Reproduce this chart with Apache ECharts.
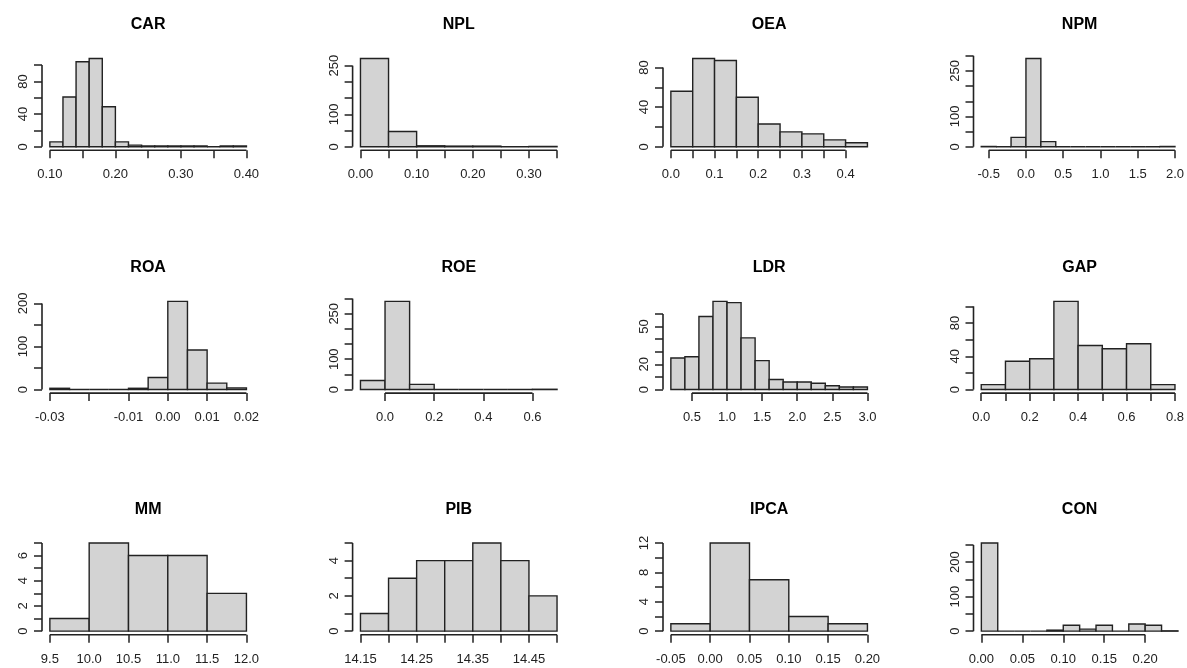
<!DOCTYPE html>
<html><head><meta charset="utf-8">
<script src="https://cdn.jsdelivr.net/npm/echarts@6/dist/echarts.min.js"></script>
<style>html,body{margin:0;padding:0;background:#fff}#c{width:1187px;height:668px}</style>
</head><body><div id="c"></div>
<script>
// ---- data ----
const titles = ['CAR','NPL','OEA','NPM','ROA','ROE','LDR','GAP','MM','PIB','IPCA','CON'];

const carBreaks = [0.10,0.12,0.14,0.16,0.18,0.20,0.22,0.24,0.26,0.28,0.30,0.32,0.34,0.36,0.38,0.40];
const carCounts = [6,61,104,108,49,6,2,1,1,1,1,1,0,1,1];
const carXTicks = [0.10,0.15,0.20,0.25,0.30,0.35,0.40];
const carXLabels = [0.10,0.20,0.30,0.40];
const carYTicks = [0,20,40,60,80,100];
const carYLabels = [0,40,80];

const nplBreaks = [0,0.05,0.10,0.15,0.20,0.25,0.30,0.35];
const nplCounts = [272,47,3,2,2,0,1];
const nplXTicks = [0,0.05,0.10,0.15,0.20,0.25,0.30,0.35];
const nplXLabels = [0,0.10,0.20,0.30];
const nplYTicks = [0,50,100,150,200,250];
const nplYLabels = [0,100,250];

const oeaBreaks = [0,0.05,0.10,0.15,0.20,0.25,0.30,0.35,0.40,0.45];
const oeaCounts = [56,89,87,50,23,15,13,7,4];
const oeaXTicks = [0,0.05,0.10,0.15,0.20,0.25,0.30,0.35,0.40];
const oeaXLabels = [0,0.1,0.2,0.3,0.4];
const oeaYTicks = [0,20,40,60,80];
const oeaYLabels = [0,40,80];

const npmBreaks = [-0.6,-0.4,-0.2,0,0.2,0.4,0.6,0.8,1.0,1.2,1.4,1.6,1.8,2.0];
const npmCounts = [1,0,31,291,17,0,0,0,0,0,0,0,1];
const npmXTicks = [-0.5,0,0.5,1.0,1.5,2.0];
const npmXLabels = [-0.5,0,0.5,1.0,1.5,2.0];
const npmYTicks = [0,50,100,150,200,250,300];
const npmYLabels = [0,100,250];

const roaBreaks = [-0.03,-0.025,-0.02,-0.015,-0.01,-0.005,0,0.005,0.01,0.015,0.02];
const roaCounts = [3,0,0,0,3,28,205,92,15,4];
const roaXTicks = [-0.03,-0.02,-0.01,0,0.01,0.02];
const roaXLabels = [-0.03,-0.01,0,0.01,0.02];
const roaYTicks = [0,50,100,150,200];
const roaYLabels = [0,100,200];

const roeBreaks = [-0.1,0,0.1,0.2,0.3,0.4,0.5,0.6,0.7];
const roeCounts = [30,291,17,0,0,0,0,1];
const roeXTicks = [0,0.2,0.4,0.6];
const roeXLabels = [0,0.2,0.4,0.6];
const roeYTicks = [0,50,100,150,200,250,300];
const roeYLabels = [0,100,250];

const ldrBreaks = [0.2,0.4,0.6,0.8,1.0,1.2,1.4,1.6,1.8,2.0,2.2,2.4,2.6,2.8,3.0];
const ldrCounts = [25,26,58,70,69,41,23,8,6,6,5,3,2,2];
const ldrXTicks = [0.5,1.0,1.5,2.0,2.5,3.0];
const ldrXLabels = [0.5,1.0,1.5,2.0,2.5,3.0];
const ldrYTicks = [0,10,20,30,40,50,60];
const ldrYLabels = [0,20,50];

const gapBreaks = [0,0.1,0.2,0.3,0.4,0.5,0.6,0.7,0.8];
const gapCounts = [6,34,37,106,53,49,55,6];
const gapXTicks = [0,0.1,0.2,0.3,0.4,0.5,0.6,0.7,0.8];
const gapXLabels = [0,0.2,0.4,0.6,0.8];
const gapYTicks = [0,20,40,60,80,100];
const gapYLabels = [0,40,80];

const mmBreaks = [9.5,10.0,10.5,11.0,11.5,12.0];
const mmCounts = [1,7,6,6,3];
const mmXTicks = [9.5,10.0,10.5,11.0,11.5,12.0];
const mmXLabels = [9.5,10.0,10.5,11.0,11.5,12.0];
const mmYTicks = [0,1,2,3,4,5,6,7];
const mmYLabels = [0,2,4,6];

const pibBreaks = [14.15,14.20,14.25,14.30,14.35,14.40,14.45,14.50];
const pibCounts = [1,3,4,4,5,4,2];
const pibXTicks = [14.15,14.20,14.25,14.30,14.35,14.40,14.45,14.50];
const pibXLabels = [14.15,14.25,14.35,14.45];
const pibYTicks = [0,1,2,3,4,5];
const pibYLabels = [0,2,4];

const ipcaBreaks = [-0.05,0,0.05,0.10,0.15,0.20];
const ipcaCounts = [1,12,7,2,1];
const ipcaXTicks = [-0.05,0,0.05,0.10,0.15,0.20];
const ipcaXLabels = [-0.05,0,0.05,0.10,0.15,0.20];
const ipcaYTicks = [0,2,4,6,8,10,12];
const ipcaYLabels = [0,4,8,12];

const conBreaks = [0,0.02,0.04,0.06,0.08,0.10,0.12,0.14,0.16,0.18,0.20,0.22,0.24];
const conCounts = [256,0,0,0,3,17,6,17,0,21,17,1];
const conXTicks = [0,0.05,0.10,0.15,0.20];
const conXLabels = [0,0.05,0.10,0.15,0.20];
const conYTicks = [0,50,100,150,200,250];
const conYLabels = [0,100,200];

const xDecimals = [2,2,1,1,2,1,1,1,1,2,2,2];

// ---- build ----
const panels = [
  [carBreaks,carCounts,carXTicks,carXLabels,carYTicks,carYLabels],
  [nplBreaks,nplCounts,nplXTicks,nplXLabels,nplYTicks,nplYLabels],
  [oeaBreaks,oeaCounts,oeaXTicks,oeaXLabels,oeaYTicks,oeaYLabels],
  [npmBreaks,npmCounts,npmXTicks,npmXLabels,npmYTicks,npmYLabels],
  [roaBreaks,roaCounts,roaXTicks,roaXLabels,roaYTicks,roaYLabels],
  [roeBreaks,roeCounts,roeXTicks,roeXLabels,roeYTicks,roeYLabels],
  [ldrBreaks,ldrCounts,ldrXTicks,ldrXLabels,ldrYTicks,ldrYLabels],
  [gapBreaks,gapCounts,gapXTicks,gapXLabels,gapYTicks,gapYLabels],
  [mmBreaks,mmCounts,mmXTicks,mmXLabels,mmYTicks,mmYLabels],
  [pibBreaks,pibCounts,pibXTicks,pibXLabels,pibYTicks,pibYLabels],
  [ipcaBreaks,ipcaCounts,ipcaXTicks,ipcaXLabels,ipcaYTicks,ipcaYLabels],
  [conBreaks,conCounts,conXTicks,conXLabels,conYTicks,conYLabels]
];

const FONT = '"Liberation Sans", Arial, sans-serif';
const INK = '#222';
const colLeft = [42.0, 352.6, 663.0, 973.5];
const rowTop = [55.0, 297.8, 539.4];
const plotW = 212.3, plotH = 95.3;

const grid = [], xAxis = [], yAxis = [], series = [], graphic = [];

panels.forEach((p, i) => {
  const [br, ct, xt, xl, yt, yl] = p;
  const r = Math.floor(i / 4), c = i % 4;
  const x0 = br[0], x1 = br[br.length - 1];
  const xr = x1 - x0;
  const ymax = Math.max(...ct);
  grid.push({left: colLeft[c], top: rowTop[r], width: plotW, height: plotH, containLabel: false});
  const dec = xDecimals[i];
  xAxis.push({
    type: 'value', gridIndex: i, position: 'bottom', min: x0 - 0.04 * xr, max: x1 + 0.04 * xr,
    axisLine: {show: false, onZero: false}, splitLine: {show: false},
    axisTick: {show: true, customValues: xt, length: 8, inside: false, lineStyle: {color: INK, width: 1.5}},
    axisLabel: {show: true, customValues: xl, margin: 18, color: INK, fontSize: 13, fontFamily: FONT,
      hideOverlap: false, formatter: v => Number(v).toFixed(dec)}
  });
  yAxis.push({
    type: 'value', gridIndex: i, position: 'left', min: -0.04 * ymax, max: 1.04 * ymax,
    axisLine: {show: false, onZero: false}, splitLine: {show: false},
    axisTick: {show: true, customValues: yt, length: 8, inside: false, lineStyle: {color: INK, width: 1.5}},
    axisLabel: {show: true, customValues: yl, rotate: 90, margin: 12, color: INK, fontSize: 13, fontFamily: FONT,
      hideOverlap: false, formatter: v => String(Math.round(v))}
  });
  series.push({
    type: 'custom', xAxisIndex: i, yAxisIndex: i, silent: true,
    data: ct.map((v, k) => [br[k], br[k + 1], v]),
    encode: {x: [0, 1], y: 2},
    renderItem: (params, api) => {
      const a = api.coord([api.value(0), 0]);
      const b = api.coord([api.value(1), api.value(2)]);
      return {type: 'rect', shape: {x: a[0], y: b[1], width: b[0] - a[0], height: a[1] - b[1]},
        style: {fill: '#d3d3d3', stroke: INK, lineWidth: 1.4}};
    }
  });
  // axis lines spanning first..last tick (as in R)
  series.push({
    type: 'custom', xAxisIndex: i, yAxisIndex: i, silent: true,
    data: [[xt[0], xt[xt.length - 1], yt[0], yt[yt.length - 1]]],
    encode: {x: [0, 1], y: [2, 3]},
    renderItem: (params, api) => {
      const cs = params.coordSys;
      const bottom = cs.y + cs.height, left = cs.x;
      const xa = api.coord([api.value(0), 0])[0];
      const xb = api.coord([api.value(1), 0])[0];
      const ya = api.coord([0, api.value(2)])[1];
      const yb = api.coord([0, api.value(3)])[1];
      return {type: 'group', children: [
        {type: 'line', shape: {x1: xa, y1: bottom, x2: xb, y2: bottom}, style: {stroke: INK, lineWidth: 1.6}},
        {type: 'line', shape: {x1: left, y1: ya, x2: left, y2: yb}, style: {stroke: INK, lineWidth: 1.6}}
      ]};
    }
  });
  graphic.push({type: 'text', x: colLeft[c] + plotW / 2, y: rowTop[r] - 30,
    style: {text: titles[i], textAlign: 'center', textVerticalAlign: 'middle',
      font: 'bold 16px ' + FONT, fill: '#000'}});
});

const chart = echarts.init(document.getElementById('c'), null, {renderer: 'canvas'});
chart.setOption({animation: false, backgroundColor: '#fff', grid, xAxis, yAxis, series, graphic});
</script>
</body></html>
